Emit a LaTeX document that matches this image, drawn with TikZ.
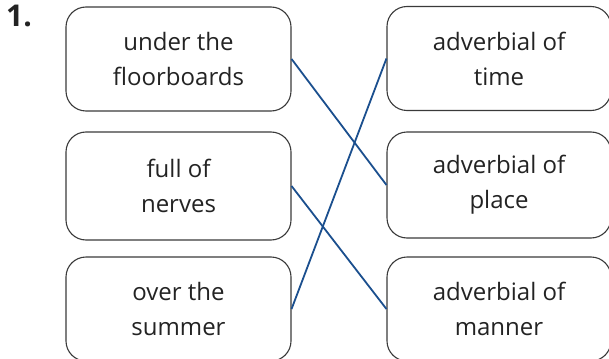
\documentclass[tikz,border=0pt]{standalone}
\usepackage{fontspec}
\setmainfont{Open Sans}
\definecolor{boxline}{HTML}{3A3A3A}
\definecolor{txt}{HTML}{232323}
\definecolor{linkblue}{HTML}{1B4F8E}
\begin{document}
\begin{tikzpicture}[x=1pt,y=-1pt,
  card/.style={draw=boxline,line width=1.1pt,rounded corners=20pt,minimum width=225pt,
    align=center,text=txt,font=\fontsize{24}{35}\selectfont,inner sep=0pt},
  link/.style={draw=linkblue,line width=1.8pt}]
\useasboundingbox (0,0) rectangle (609,358);
\begin{scope}
\clip (0,0) rectangle (609,358);
\node[font=\bfseries\fontsize{30}{34}\selectfont,text=txt,anchor=north west,inner sep=0pt] (num) at (6,5) {1.};
\node[card,minimum height=104pt] (l1) at (178.5,59) {under the\\floorboards};
\node[card,minimum height=108pt] (l2) at (178.5,186) {full of\\nerves};
\node[card,minimum height=104pt] (l3) at (178.5,309) {over the\\summer};
\node[card,minimum height=104pt,minimum width=224pt] (r1) at (499,58.5) {adverbial of\\time};
\node[card,minimum height=106pt,minimum width=224pt] (r2) at (499,185) {adverbial of\\place};
\node[card,minimum height=104pt,minimum width=224pt] (r3) at (499,309) {adverbial of\\manner};
\draw[link] (l1.east) -- (r2.west);
\draw[link] (l2.east) -- (r3.west);
\draw[link] (l3.east) -- (r1.west);
\end{scope}
\end{tikzpicture}
\end{document}
